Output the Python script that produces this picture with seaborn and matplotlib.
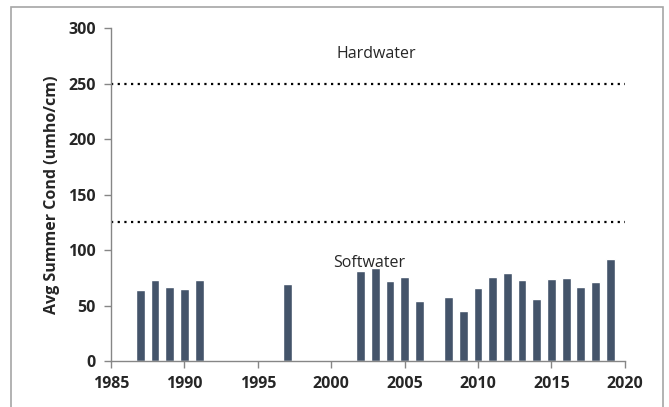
import matplotlib.pyplot as plt
import matplotlib.patches as mpatches
import pandas as pd
import seaborn as sns

# Average summer conductivity by year
years = [1987, 1988, 1989, 1990, 1991, 1997, 2002, 2003, 2004, 2005, 2006,
         2008, 2009, 2010, 2011, 2012, 2013, 2014, 2015, 2016, 2017, 2018, 2019]
cond = [64, 73, 67, 65, 73, 69.5, 81, 84, 72, 76, 54.5,
        58, 45.5, 66, 76, 79, 73, 56, 74, 75, 67, 71, 92]
thresholds = [250, 125]
threshold_labels = ['Hardwater', 'Softwater']
xticks = [1985, 1990, 1995, 2000, 2005, 2010, 2015, 2020]
yticks = [0, 50, 100, 150, 200, 250, 300]

df = pd.DataFrame({'year': years, 'cond': cond})

sns.set_style('white')
plt.rcParams['font.family'] = ['Open Sans', 'DejaVu Sans']

fig = plt.figure(figsize=(6.69, 4.07), dpi=100)
ax = fig.add_axes([0.166, 0.113, 0.768, 0.818])

sns.barplot(data=df, x='year', y='cond', native_scale=True, width=0.6,
            color='#44546A', saturation=1, ax=ax)

ax.hlines(thresholds, 1985, 2020, colors='black', linestyles=(0, (1, 2)),
          linewidth=1.6)
ax.text(2003.1, 277, threshold_labels[0], ha='center', va='center', fontsize=11.5)
ax.text(2002.6, 88, threshold_labels[1], ha='center', va='center', fontsize=11.5)

ax.set_xlim(1985, 2020)
ax.set_ylim(0, 300)
ax.set_xticks(xticks, labels=[str(t) for t in xticks],
              fontweight='bold', fontsize=11.5)
ax.set_yticks(yticks, labels=[str(t) for t in yticks],
              fontweight='bold', fontsize=11.5)
ax.set_xlabel('')
ax.set_ylabel('Avg Summer Cond (umho/cm)', fontsize=11.5, fontweight='bold',
              labelpad=6)

ax.spines['top'].set_visible(False)
ax.spines['right'].set_visible(False)
for side in ['left', 'bottom']:
    ax.spines[side].set_color('#868686')
    ax.spines[side].set_linewidth(1.0)
ax.tick_params(axis='both', direction='out', length=5, width=1,
               color='#868686', pad=6, bottom=True, left=True)

# outer chart-area border (cropped at the bottom)
border = mpatches.Rectangle((11 / 669, -0.1), 652 / 669, 1.1 - 7 / 407,
                            transform=fig.transFigure, fill=False,
                            edgecolor='#A6A6A6', linewidth=1.2)
fig.patches.append(border)

fig.savefig('out.png', dpi=100)
